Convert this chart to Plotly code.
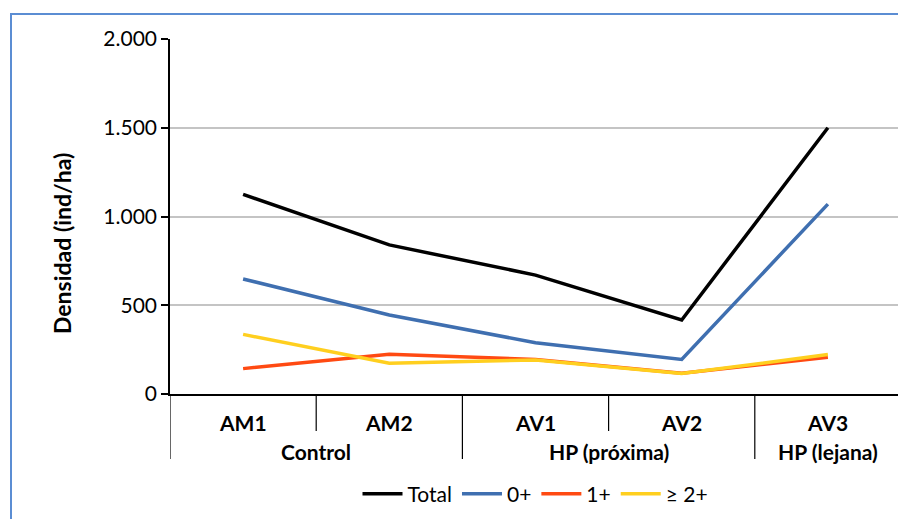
import plotly.graph_objects as go

sites = ["AM1", "AM2", "AV1", "AV2", "AV3"]
groups = ["Control", "HP (próxima)", "HP (lejana)"]
group_spans = [(0, 1), (2, 3), (4, 4)]
total = [1125, 840, 670, 417, 1500]
age0 = [648, 445, 289, 195, 1070]
age1 = [143, 224, 195, 117, 207]
age2 = [336, 173, 192, 115, 222]
series_names = ["Total", "0+", "1+", "≥ 2+"]
series_colors = ["#000000", "#3f6fb0", "#ff4a12", "#ffcf1f"]
y_ticks = [0, 500, 1000, 1500, 2000]
y_ticktext = ["0", "500", "1.000", "1.500", "2.000"]

FONT = "Lato"
OFF = 8  # page body margin
W, H = 906 - OFF, 519 - OFF
# plot area in page pixels: left 170, right 901, top 39, bottom 394
L, T = 170 - OFF, 39 - OFF
R = W - (901 - OFF)
B = H - (394 - OFF)
PW, PH = W - L - R, H - T - B

def py(p):  # page pixel y -> paper y
    return (394 - p) / PH

def px(p):
    return (p - 170) / PW

fig = go.Figure()
for name, vals, col in zip(series_names, [total, age0, age1, age2], series_colors):
    fig.add_trace(go.Scatter(x=sites, y=vals, mode="lines", name=name,
                             line=dict(color=col, width=3.5)))

shapes = []
shapes.append(dict(type="rect", xref="paper", yref="paper", x0=px(11), x1=px(960),
                   y0=py(14), y1=py(600), line=dict(color="#5b8dd3", width=2), layer="below"))
shapes.append(dict(type="line", xref="paper", yref="paper", x0=1, x1=1, y0=0, y1=1,
                   line=dict(color="#c0c0c0", width=1.5)))
n = len(sites)
group_edges = set()
for a, b in group_spans:
    group_edges.add(a - 0.5)
    group_edges.add(b + 0.5)
for i in range(n + 1):
    xb = i - 0.5
    yb = py(459) if xb in group_edges else py(431)
    shapes.append(dict(type="line", xref="x", yref="paper", x0=xb, x1=xb, y0=0, y1=yb,
                       line=dict(color="#000000", width=1.2)))

annotations = []
for s in sites:
    annotations.append(dict(x=s, y=py(423), xref="x", yref="paper", text="<b>%s</b>" % s,
                            showarrow=False, font=dict(family=FONT, size=21, color="#000"),
                            xanchor="center", yanchor="middle"))
for g, (a, b) in zip(groups, group_spans):
    annotations.append(dict(x=(a + b) / 2, y=py(451), xref="x", yref="paper", text="<b>%s</b>" % g,
                            showarrow=False, font=dict(family=FONT, size=21, color="#000"),
                            xanchor="center", yanchor="middle"))
annotations.append(dict(x=px(62), y=py(244), xref="paper", yref="paper",
                        text="<b>Densidad (ind/ha)</b>", textangle=-90, showarrow=False,
                        font=dict(family=FONT, size=23, color="#000"),
                        xanchor="center", yanchor="middle"))

fig.update_layout(
    width=W, height=H,
    margin=dict(l=L, r=R, t=T, b=B),
    paper_bgcolor="white", plot_bgcolor="white",
    font=dict(family=FONT, size=21, color="#000"),
    showlegend=True,
    legend=dict(orientation="h", x=0.5, xanchor="center", y=py(494), yanchor="middle",
                font=dict(family=FONT, size=21), bgcolor="rgba(0,0,0,0)", itemwidth=40,
                tracegroupgap=0),
    xaxis=dict(type="category", categoryorder="array", categoryarray=sites,
               range=[-0.5, n - 0.5], showticklabels=False, ticks="", showgrid=False,
               showline=True, linecolor="#000", linewidth=1.5, zeroline=False),
    yaxis=dict(range=[0, 2000], tickvals=y_ticks, ticktext=y_ticktext,
               ticks="outside", ticklen=7, tickcolor="#000", tickwidth=1.5,
               showline=True, linecolor="#000", linewidth=1.5,
               showgrid=True, gridcolor="#c4c4c4", gridwidth=1.5, zeroline=False,
               tickfont=dict(family=FONT, size=21)),
    shapes=shapes, annotations=annotations,
)
fig.write_html("out.html")
